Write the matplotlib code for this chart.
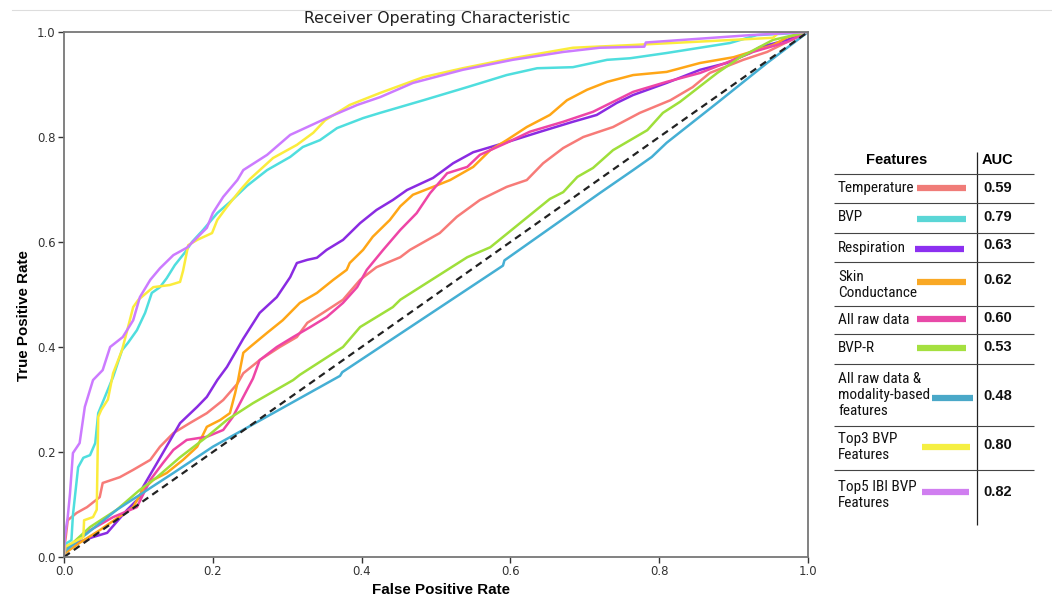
import matplotlib
matplotlib.use("Agg")
import matplotlib.pyplot as plt
from matplotlib.lines import Line2D
from matplotlib import font_manager as fm

# ---------------- data ----------------
temp_fpr = [0, 0.005, 0.017, 0.031, 0.048, 0.052, 0.075, 0.093, 0.116, 0.129, 0.147, 0.169, 0.192, 0.214, 0.233, 0.241, 0.263, 0.29, 0.313, 0.327, 0.348, 0.375, 0.398, 0.42, 0.452, 0.465, 0.505, 0.528, 0.559, 0.595, 0.622, 0.644, 0.671, 0.698, 0.738, 0.774, 0.815, 0.845, 0.868, 0.913, 0.945, 0.972, 1.0]
temp_tpr = [0.01, 0.07, 0.084, 0.095, 0.114, 0.141, 0.152, 0.166, 0.185, 0.21, 0.236, 0.255, 0.274, 0.299, 0.33, 0.35, 0.375, 0.40, 0.419, 0.446, 0.465, 0.49, 0.528, 0.552, 0.571, 0.585, 0.617, 0.648, 0.68, 0.705, 0.718, 0.75, 0.779, 0.80, 0.819, 0.846, 0.87, 0.895, 0.922, 0.947, 0.962, 0.981, 1.0]

bvp_fpr = [0, 0.002, 0.01, 0.012, 0.019, 0.026, 0.035, 0.042, 0.046, 0.055, 0.066, 0.078, 0.086, 0.098, 0.109, 0.118, 0.129, 0.138, 0.149, 0.163, 0.172, 0.187, 0.206, 0.223, 0.246, 0.273, 0.304, 0.321, 0.344, 0.367, 0.402, 0.425, 0.483, 0.542, 0.595, 0.636, 0.684, 0.73, 0.761, 0.81, 0.895, 0.931, 0.97, 1.0]
bvp_tpr = [0, 0.025, 0.032, 0.08, 0.171, 0.189, 0.194, 0.217, 0.274, 0.305, 0.343, 0.394, 0.408, 0.432, 0.465, 0.503, 0.514, 0.531, 0.556, 0.581, 0.60, 0.623, 0.655, 0.676, 0.707, 0.737, 0.762, 0.781, 0.794, 0.817, 0.836, 0.846, 0.870, 0.895, 0.918, 0.931, 0.933, 0.947, 0.950, 0.96, 0.979, 0.994, 0.997, 1.0]

resp_fpr = [0, 0.002, 0.039, 0.058, 0.085, 0.102, 0.106, 0.125, 0.156, 0.179, 0.192, 0.206, 0.219, 0.241, 0.263, 0.286, 0.304, 0.313, 0.327, 0.34, 0.353, 0.375, 0.398, 0.42, 0.442, 0.461, 0.496, 0.523, 0.55, 0.595, 0.64, 0.684, 0.716, 0.743, 0.765, 0.81, 0.855, 0.891, 0.922, 0.935, 0.972, 1.0]
resp_tpr = [0, 0.019, 0.038, 0.046, 0.09, 0.114, 0.133, 0.179, 0.255, 0.286, 0.305, 0.337, 0.362, 0.416, 0.465, 0.495, 0.533, 0.56, 0.566, 0.57, 0.585, 0.604, 0.636, 0.661, 0.68, 0.699, 0.722, 0.75, 0.771, 0.790, 0.81, 0.829, 0.842, 0.865, 0.88, 0.903, 0.928, 0.941, 0.96, 0.971, 0.985, 1.0]

sc_fpr = [0, 0.002, 0.021, 0.048, 0.093, 0.106, 0.12, 0.138, 0.16, 0.179, 0.192, 0.21, 0.223, 0.230, 0.234, 0.237, 0.241, 0.25, 0.273, 0.294, 0.317, 0.34, 0.362, 0.38, 0.384, 0.402, 0.415, 0.438, 0.452, 0.469, 0.496, 0.519, 0.55, 0.573, 0.595, 0.622, 0.653, 0.676, 0.703, 0.73, 0.765, 0.81, 0.855, 0.9, 0.953, 0.972, 1.0]
sc_tpr = [0, 0.008, 0.027, 0.051, 0.095, 0.128, 0.147, 0.16, 0.185, 0.21, 0.248, 0.261, 0.274, 0.312, 0.337, 0.36, 0.389, 0.40, 0.427, 0.451, 0.484, 0.503, 0.528, 0.547, 0.56, 0.585, 0.61, 0.642, 0.668, 0.69, 0.705, 0.718, 0.743, 0.775, 0.794, 0.819, 0.842, 0.87, 0.89, 0.905, 0.918, 0.924, 0.941, 0.952, 0.975, 0.99, 1.0]

raw_fpr = [0, 0.002, 0.035, 0.066, 0.098, 0.116, 0.133, 0.147, 0.165, 0.192, 0.214, 0.227, 0.241, 0.254, 0.263, 0.286, 0.308, 0.331, 0.353, 0.375, 0.394, 0.407, 0.429, 0.452, 0.474, 0.492, 0.515, 0.542, 0.559, 0.595, 0.626, 0.671, 0.711, 0.738, 0.765, 0.81, 0.855, 0.9, 0.926, 0.972, 1.0]
raw_tpr = [0, 0.013, 0.051, 0.076, 0.095, 0.147, 0.179, 0.204, 0.223, 0.229, 0.242, 0.267, 0.305, 0.34, 0.375, 0.40, 0.419, 0.438, 0.457, 0.484, 0.514, 0.547, 0.585, 0.623, 0.655, 0.693, 0.731, 0.743, 0.766, 0.789, 0.81, 0.829, 0.848, 0.867, 0.886, 0.905, 0.922, 0.947, 0.962, 0.981, 1.0]

bvpr_fpr = [0, 0.002, 0.012, 0.035, 0.071, 0.102, 0.125, 0.156, 0.192, 0.219, 0.254, 0.308, 0.317, 0.375, 0.398, 0.442, 0.452, 0.542, 0.573, 0.653, 0.671, 0.69, 0.711, 0.738, 0.784, 0.805, 0.828, 0.878, 0.909, 0.953, 1.0]
bvpr_tpr = [0, 0.013, 0.027, 0.057, 0.09, 0.128, 0.152, 0.19, 0.229, 0.261, 0.293, 0.337, 0.347, 0.40, 0.438, 0.476, 0.49, 0.571, 0.59, 0.682, 0.695, 0.724, 0.741, 0.775, 0.813, 0.846, 0.867, 0.922, 0.952, 0.985, 1.0]

mod_fpr = [0, 0.071, 0.147, 0.2, 0.371, 0.374, 0.59, 0.592, 0.72, 0.765, 0.79, 0.81, 0.878, 0.945, 1.0]
mod_tpr = [0.01, 0.09, 0.16, 0.21, 0.345, 0.352, 0.555, 0.565, 0.693, 0.737, 0.762, 0.789, 0.865, 0.941, 1.0]

top3_fpr = [0, 0.002, 0.026, 0.027, 0.039, 0.044, 0.046, 0.05, 0.059, 0.066, 0.078, 0.085, 0.093, 0.1, 0.12, 0.142, 0.156, 0.16, 0.167, 0.179, 0.199, 0.206, 0.219, 0.237, 0.25, 0.281, 0.313, 0.335, 0.351, 0.384, 0.425, 0.483, 0.536, 0.603, 0.684, 0.761, 0.9, 0.953, 0.96, 1.0]
top3_tpr = [0, 0.02, 0.038, 0.07, 0.076, 0.09, 0.267, 0.28, 0.30, 0.35, 0.394, 0.432, 0.476, 0.49, 0.514, 0.518, 0.524, 0.545, 0.594, 0.604, 0.617, 0.642, 0.667, 0.699, 0.72, 0.76, 0.785, 0.808, 0.832, 0.861, 0.884, 0.914, 0.931, 0.950, 0.97, 0.975, 0.985, 0.989, 0.998, 1.0]

top5_fpr = [0, 0.001, 0.005, 0.008, 0.012, 0.021, 0.028, 0.039, 0.052, 0.062, 0.079, 0.093, 0.102, 0.116, 0.129, 0.147, 0.165, 0.173, 0.192, 0.2, 0.214, 0.233, 0.241, 0.273, 0.304, 0.327, 0.353, 0.394, 0.425, 0.469, 0.536, 0.603, 0.671, 0.72, 0.78, 0.782, 0.922, 1.0]
top5_tpr = [0, 0.038, 0.076, 0.12, 0.198, 0.217, 0.286, 0.337, 0.356, 0.40, 0.419, 0.451, 0.495, 0.528, 0.55, 0.575, 0.589, 0.60, 0.627, 0.655, 0.686, 0.718, 0.737, 0.766, 0.804, 0.819, 0.836, 0.861, 0.876, 0.903, 0.928, 0.947, 0.962, 0.97, 0.972, 0.98, 0.994, 1.0]

feature_names = ["Temperature", "BVP", "Respiration", "Skin\nConductance", "All raw data",
                 "BVP-R", "All raw data &\nmodality-based\nfeatures", "Top3 BVP\nFeatures",
                 "Top5 IBI BVP\nFeatures"]
auc_values = ["0.59", "0.79", "0.63", "0.62", "0.60", "0.53", "0.48", "0.80", "0.82"]
curve_colors = ["#f77b78", "#4fdede", "#8a2be2", "#ffa616", "#ee45a6",
                "#9fdf3a", "#45afd4", "#fbec3c", "#cc7bff"]
swatch_colors = ["#f07c78", "#5ad6d6", "#8c30f0", "#f9a825", "#e84aa8",
                 "#a5e040", "#4aa8c8", "#f5ef42", "#d07ef0"]
curves = [(temp_fpr, temp_tpr), (bvp_fpr, bvp_tpr), (resp_fpr, resp_tpr),
          (sc_fpr, sc_tpr), (raw_fpr, raw_tpr), (bvpr_fpr, bvpr_tpr),
          (mod_fpr, mod_tpr), (top3_fpr, top3_tpr), (top5_fpr, top5_tpr)]
ticks = [0.0, 0.2, 0.4, 0.6, 0.8, 1.0]

# ---------------- find a condensed font ----------------
def find_narrow():
    cands = []
    for f in fm.fontManager.ttflist:
        name = f.name.lower()
        stretch = f.stretch
        is_cond = ("narrow" in name or "condensed" in name or
                   (isinstance(stretch, str) and "condensed" in stretch) or
                   (isinstance(stretch, int) and stretch < 500) or
                   "condensed" in f.fname.lower() or "narrow" in f.fname.lower())
        if is_cond and f.weight in (400, "normal", "regular") and f.style == "normal":
            cands.append(f)
    pref = ["liberation sans narrow", "roboto condensed", "open sans condensed",
            "noto sans", "dejavu sans"]
    for p in pref:
        for f in cands:
            if f.name.lower().startswith(p):
                return f.fname
    return cands[0].fname if cands else None

narrow_file = find_narrow()
if narrow_file:
    label_font = fm.FontProperties(fname=narrow_file, size=11)
else:
    label_font = fm.FontProperties(family="Liberation Sans", size=9.5)

# ---------------- figure ----------------
W, H = 1052, 596
fig = plt.figure(figsize=(W / 100, H / 100), dpi=100)
ax = fig.add_axes([64 / W, 1 - 557 / H, 744 / W, 525 / H])

for (fx, ty), c in zip(curves, curve_colors):
    ax.plot(fx, ty, color=c, lw=1.8)
ax.plot([0, 1], [0, 1], color="#222222", lw=1.6, ls=(0, (3.2, 2.2)))

ax.set_xlim(0, 1)
ax.set_ylim(0, 1)
ax.set_xticks(ticks)
ax.set_yticks(ticks)
ax.set_xticklabels([f"{t:.1f}" for t in ticks])
ax.set_yticklabels([f"{t:.1f}" for t in ticks])
ax.tick_params(labelsize=8.5, colors="#333333", length=4, width=1.0, pad=2)
for s in ax.spines.values():
    s.set_color("#777777")
    s.set_linewidth(1.3)

fig.text(437 / W, 1 - 19 / H, "Receiver Operating Characteristic", ha="center", va="center",
         fontsize=11.3, color="#222222", family="DejaVu Sans")
fig.text(441 / W, 1 - 590 / H, "False Positive Rate", ha="center", va="center",
         fontsize=10.9, fontweight="bold", family="Liberation Sans")
fig.text(24 / W, 1 - 316 / H, "True Positive Rate", ha="center", va="center", rotation=90,
         fontsize=10.9, fontweight="bold", family="Liberation Sans")

fig.add_artist(Line2D([12 / W, 1.0], [1 - 10 / H, 1 - 10 / H], color="#dddddd", lw=0.8,
                      transform=fig.transFigure))

# ---------------- legend table ----------------
def px_line(x0, x1, y0, y1, color="#222222", lw=0.8):
    fig.add_artist(Line2D([x0 / W, x1 / W], [1 - y0 / H, 1 - y1 / H], color=color, lw=lw,
                          transform=fig.transFigure, solid_capstyle="butt"))

px_line(977, 977, 152, 525, lw=0.9)
for yy in [174, 203, 233, 262, 306, 334, 364, 426, 470]:
    px_line(834, 1034, yy, yy, color="#444444", lw=0.8)

fig.text(897 / W, 1 - 160 / H, "Features", ha="center", va="center", fontsize=10.5,
         fontweight="bold", family="Liberation Sans")
fig.text(998 / W, 1 - 160 / H, "AUC", ha="center", va="center", fontsize=10.5,
         fontweight="bold", family="Liberation Sans")

label_y = [188, 217, 248, 285, 320, 348, 395, 447, 495]
swatch_x = [(917, 966), (917, 966), (915, 964), (917, 966), (917, 966), (917, 966),
            (932, 973), (922, 970), (922, 969)]
swatch_y = [188, 219, 249, 282, 319, 348, 398, 447, 492]
auc_y = [188, 217, 245, 280, 318, 347, 396, 445, 492]
for name, auc, sc, (sx0, sx1), sy, ly, ay in zip(feature_names, auc_values, swatch_colors,
                                                swatch_x, swatch_y, label_y, auc_y):
    fig.text(838 / W, 1 - ly / H, name, ha="left", va="center", fontproperties=label_font,
             linespacing=1.15, color="#111111")
    px_line(sx0, sx1, sy, sy, color=sc, lw=4.5)
    fig.text(983 / W, 1 - ay / H, auc, ha="left", va="center", fontsize=10.5,
             fontweight="bold", family="Liberation Sans", color="#111111")

fig.savefig("out.png", dpi=100, facecolor="white")
